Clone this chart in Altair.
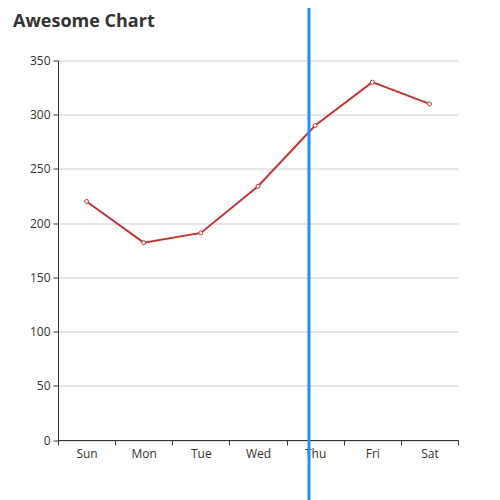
import pandas as pd
import altair as alt

# weekly values
days = ["Sun", "Mon", "Tue", "Wed", "Thu", "Fri", "Sat"]
values = [220, 182, 191, 234, 290, 330, 310]
chart_title = ["Awesome Chart"]

df = pd.DataFrame({"day": days, "value": values})

base = alt.Chart(df).encode(
    x=alt.X("day:N", sort=days, title=None,
            scale=alt.Scale(paddingInner=0, paddingOuter=0),
            axis=alt.Axis(labelAngle=0, tickBand="extent", domainColor="#333",
                          tickColor="#333", tickSize=5, labelColor="#333",
                          labelFontSize=12, labelPadding=3, grid=False)),
    y=alt.Y("value:Q", title=None,
            scale=alt.Scale(domain=[0, 350], nice=False),
            axis=alt.Axis(values=list(range(0, 351, 50)), domainColor="#333",
                          tickColor="#333", tickSize=5, labelColor="#333",
                          labelFontSize=12, labelPadding=3, gridColor="#ccc")),
)

line = base.mark_line(color="#c23531", strokeWidth=2)
points = base.mark_point(shape="circle", filled=True, fill="white",
                         stroke="#c23531", strokeWidth=1, size=16, opacity=1)

# vertical cursor line
cursor = alt.Chart(pd.DataFrame({"c": [0]})).mark_rule(
    color="#1E90FF", strokeWidth=3
).encode(x=alt.value(251), y=alt.value(-60), y2=alt.value(445))

# chart title as a text mark
title = alt.Chart(pd.DataFrame({"t": chart_title})).mark_text(
    align="left", baseline="top", fontSize=18, fontWeight="bold",
    color="#333", font="Open Sans"
).encode(text="t:N", x=alt.value(-45), y=alt.value(-48))

chart = alt.layer(line, points, cursor, title).properties(
    width=400,
    height=379.5,
    autosize=alt.AutoSizeParams(type="none"),
    padding={"left": 50, "top": 52.5, "right": 34, "bottom": 60},
).configure_view(stroke=None).configure_axis(labelFont="Open Sans")

chart.save("out.html", embed_options={"renderer": "svg", "actions": False})
